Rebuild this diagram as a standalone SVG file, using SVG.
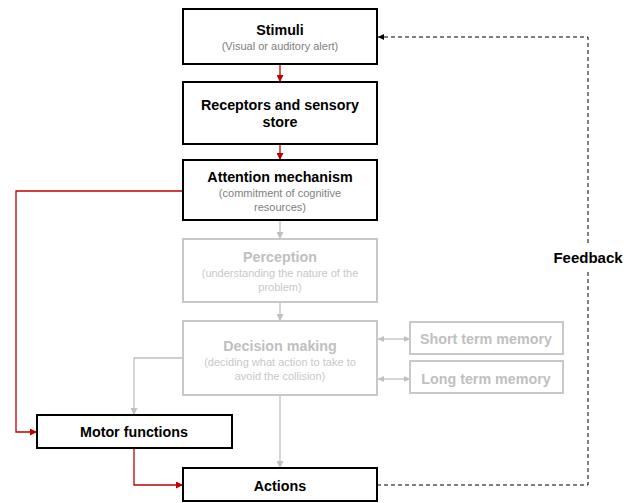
<svg xmlns="http://www.w3.org/2000/svg" width="636" height="503" viewBox="0 0 636 503">
<defs>
<marker id="ar" viewBox="0 0 10 10" refX="10" refY="5" markerWidth="7" markerHeight="7" markerUnits="userSpaceOnUse" orient="auto"><path d="M0,0 L10,5 L0,10 z" fill="#c00000"/></marker>
<marker id="ag" viewBox="0 0 10 10" refX="10" refY="5" markerWidth="7" markerHeight="7" markerUnits="userSpaceOnUse" orient="auto"><path d="M0,0 L10,5 L0,10 z" fill="#c0c0c0"/></marker>
<marker id="agb" viewBox="0 0 10 10" refX="0" refY="5" markerWidth="6" markerHeight="6" markerUnits="userSpaceOnUse" orient="auto"><path d="M10,0 L0,5 L10,10 z" fill="#c0c0c0"/></marker>
<marker id="ags" viewBox="0 0 10 10" refX="10" refY="5" markerWidth="6" markerHeight="6" markerUnits="userSpaceOnUse" orient="auto"><path d="M0,0 L10,5 L0,10 z" fill="#c0c0c0"/></marker>
<marker id="ak" viewBox="0 0 10 10" refX="10" refY="5" markerWidth="6" markerHeight="6" markerUnits="userSpaceOnUse" orient="auto"><path d="M0,0 L10,5 L0,10 z" fill="#000"/></marker>
</defs>
<style>
.bk{fill:#fff;stroke:#000;stroke-width:2}
.gy{fill:#fff;stroke:#c8c8c8;stroke-width:2}
text{font-family:"Liberation Sans",Arial,sans-serif;text-anchor:middle}
.t{font-size:14.3px;font-weight:bold;fill:#000}
.tg{font-size:14.3px;font-weight:bold;fill:#c0c0c0}
.s{font-size:11px;fill:#808080}
.sg{font-size:11px;fill:#c8c8c8}
.r{fill:none;stroke:#c00000;stroke-width:1.3}
.g{fill:none;stroke:#c0c0c0;stroke-width:1.3}
.d{fill:none;stroke:#000;stroke-width:1;stroke-dasharray:4,3}
</style>
<g id="connectors">
<path class="r" d="M280,64 V82" marker-end="url(#ar)"/>
<path class="r" d="M280,144 V160" marker-end="url(#ar)"/>
<path class="r" d="M183,191 H16 V432 H37" marker-end="url(#ar)"/>
<path class="r" d="M134,448 V485 H183" marker-end="url(#ar)"/>
<path class="g" d="M280,220 V239" marker-end="url(#ag)"/>
<path class="g" d="M280,302 V321" marker-end="url(#ag)"/>
<path class="g" d="M183,358 H134 V415" marker-end="url(#ag)"/>
<path class="g" d="M280,395 V468" marker-end="url(#ag)"/>
<path class="g" d="M378,339 H410" marker-start="url(#agb)" marker-end="url(#ags)"/>
<path class="g" d="M378,379 H410" marker-start="url(#agb)" marker-end="url(#ags)"/>
<path class="d" d="M377,485 H588 V272"/>
<path class="d" d="M588,243 V37 H378" marker-end="url(#ak)"/>
<text x="588" y="263" class="t" style="font-size:15px">Feedback</text>
</g>
<g id="stimuli"><rect class="bk" x="183" y="9" width="194" height="55"/><text x="280" y="35" class="t">Stimuli</text><text x="280" y="50" class="s">(Visual or auditory alert)</text></g>
<g id="receptors"><rect class="bk" x="183" y="82" width="194" height="62"/><text x="280" y="110" class="t">Receptors and sensory</text><text x="280" y="127" class="t">store</text></g>
<g id="attention"><rect class="bk" x="183" y="160" width="194" height="60"/><text x="280" y="182" class="t">Attention mechanism</text><text x="280" y="197" class="s">(commitment of cognitive</text><text x="280" y="211" class="s">resources)</text></g>
<g id="perception"><rect class="gy" x="183" y="239" width="194" height="63"/><text x="280" y="262" class="tg">Perception</text><text x="280" y="277" class="sg">(understanding the nature of the</text><text x="280" y="291" class="sg">problem)</text></g>
<g id="decision"><rect class="gy" x="183" y="321" width="194" height="74"/><text x="280" y="351" class="tg">Decision making</text><text x="280" y="366" class="sg">(deciding what action to take to</text><text x="280" y="380" class="sg">avoid the collision)</text></g>
<g id="stm"><rect class="gy" x="410" y="322" width="153" height="32"/><text x="486" y="344" class="tg">Short term memory</text></g>
<g id="ltm"><rect class="gy" x="410" y="361" width="153" height="32"/><text x="486" y="384" class="tg">Long term memory</text></g>
<g id="motor"><rect class="bk" x="37" y="415" width="195" height="33"/><text x="134" y="437" class="t">Motor functions</text></g>
<g id="actions"><rect class="bk" x="183" y="468" width="194" height="33"/><text x="280" y="491" class="t">Actions</text></g>
</svg>
